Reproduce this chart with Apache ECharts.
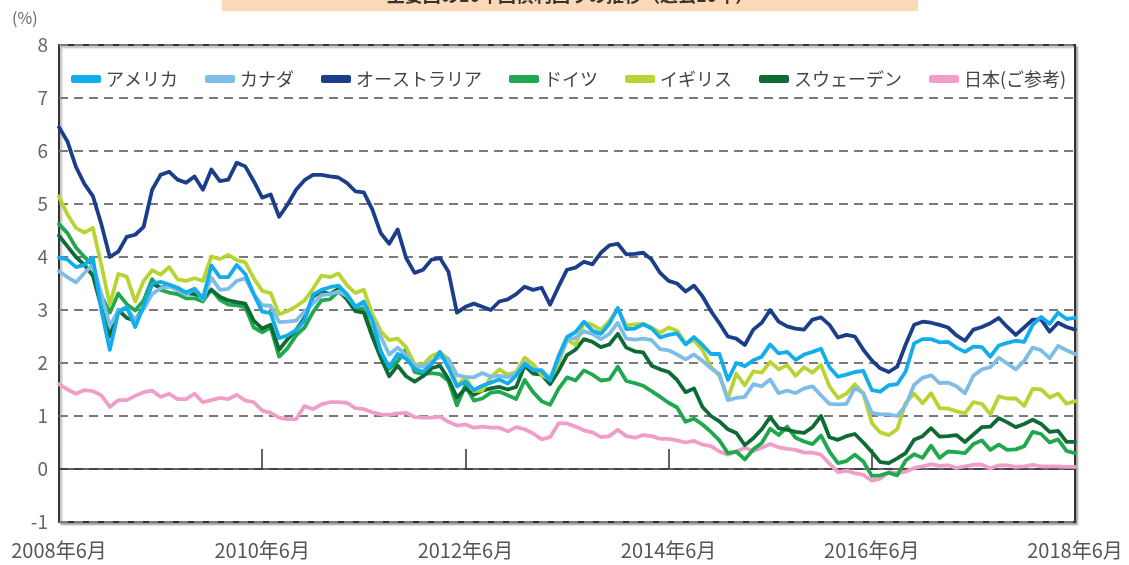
<!DOCTYPE html>
<html>
<head>
<meta charset="utf-8">
<script src="https://cdn.jsdelivr.net/npm/echarts@6/dist/echarts.min.js"></script>
<style>
html,body{margin:0;padding:0;background:#fff;}
#chart{width:1129px;height:565px;}
</style>
</head>
<body>
<div id="chart"></div>
<script>
// Month labels 2008年6月 .. 2018年6月
const categories = [];
for (let y = 2008, m = 6; y < 2018 || (y === 2018 && m <= 6); ) {
  categories.push(y + '年' + m + '月');
  m++; if (m > 12) { m = 1; y++; }
}

const seriesNames = ['アメリカ', 'カナダ', 'オーストラリア', 'ドイツ', 'イギリス', 'スウェーデン', '日本(ご参考)'];

const usa = [
  3.99, 3.95, 3.81, 3.85, 3.99, 3.00, 2.25,
  2.95, 3.05, 2.68, 3.08, 3.50, 3.53, 3.48, 3.42, 3.33, 3.40, 3.22, 3.84,
  3.62, 3.62, 3.85, 3.68, 3.30, 2.97, 2.94, 2.47, 2.52, 2.62, 2.80, 3.29,
  3.38, 3.43, 3.46, 3.30, 3.06, 3.16, 2.80, 2.22, 1.92, 2.17, 2.08, 1.89,
  1.83, 1.98, 2.21, 1.91, 1.56, 1.65, 1.49, 1.57, 1.63, 1.69, 1.61, 1.76,
  1.98, 1.87, 1.85, 1.67, 2.13, 2.49, 2.58, 2.78, 2.61, 2.55, 2.74, 3.04,
  2.64, 2.65, 2.73, 2.65, 2.48, 2.53, 2.56, 2.35, 2.49, 2.34, 2.17, 2.17,
  1.68, 2.00, 1.94, 2.05, 2.12, 2.35, 2.18, 2.21, 2.06, 2.16, 2.21, 2.27,
  1.92, 1.74, 1.78, 1.83, 1.85, 1.49, 1.46, 1.58, 1.60, 1.84, 2.37, 2.45,
  2.45, 2.39, 2.40, 2.29, 2.21, 2.31, 2.30, 2.12, 2.33, 2.38, 2.42, 2.40,
  2.72, 2.87, 2.74, 2.95, 2.83, 2.85
];

const canada = [
  3.73, 3.62, 3.52, 3.70, 3.85, 3.30, 2.70,
  2.99, 3.05, 2.80, 3.02, 3.30, 3.41, 3.45, 3.37, 3.29, 3.40, 3.20, 3.61,
  3.38, 3.40, 3.55, 3.60, 3.30, 3.09, 3.08, 2.77, 2.78, 2.80, 2.97, 3.12,
  3.28, 3.30, 3.35, 3.27, 3.07, 3.11, 2.84, 2.50, 2.16, 2.29, 2.15, 1.94,
  1.93, 2.03, 2.11, 2.08, 1.77, 1.74, 1.73, 1.81, 1.74, 1.76, 1.73, 1.80,
  2.01, 1.88, 1.87, 1.71, 2.07, 2.44, 2.47, 2.60, 2.55, 2.45, 2.55, 2.76,
  2.46, 2.44, 2.46, 2.43, 2.26, 2.24, 2.16, 2.07, 2.16, 2.04, 1.90, 1.79,
  1.30, 1.34, 1.36, 1.60, 1.56, 1.69, 1.43, 1.48, 1.43, 1.52, 1.56, 1.39,
  1.23, 1.22, 1.23, 1.53, 1.43, 1.06, 1.03, 1.03, 1.00, 1.20, 1.59, 1.72,
  1.77, 1.62, 1.63, 1.56, 1.43, 1.76, 1.88, 1.92, 2.10, 1.99, 1.88, 2.04,
  2.29, 2.24, 2.09, 2.32, 2.24, 2.17
];

const australia = [
  6.45, 6.18, 5.70, 5.38, 5.15, 4.62, 4.00,
  4.10, 4.38, 4.42, 4.57, 5.27, 5.55, 5.61, 5.46, 5.40, 5.52, 5.27, 5.65,
  5.43, 5.46, 5.78, 5.71, 5.43, 5.12, 5.18, 4.76, 4.99, 5.27, 5.45, 5.55,
  5.55, 5.52, 5.50, 5.40, 5.24, 5.22, 4.90, 4.45, 4.25, 4.52, 3.98, 3.70,
  3.76, 3.95, 3.98, 3.72, 2.95, 3.06, 3.12, 3.06, 3.00, 3.16, 3.20, 3.30,
  3.44, 3.38, 3.42, 3.10, 3.44, 3.76, 3.80, 3.91, 3.86, 4.08, 4.22, 4.25,
  4.05, 4.06, 4.08, 3.95, 3.70, 3.55, 3.50, 3.35, 3.46, 3.26, 2.98, 2.75,
  2.50, 2.46, 2.34, 2.63, 2.76, 3.00, 2.78, 2.69, 2.65, 2.63, 2.82, 2.86,
  2.72, 2.48, 2.53, 2.50, 2.25, 2.05, 1.90, 1.83, 1.93, 2.35, 2.72, 2.78,
  2.76, 2.72, 2.67, 2.52, 2.42, 2.63, 2.68, 2.75, 2.85, 2.68, 2.53, 2.67,
  2.82, 2.82, 2.59, 2.76, 2.68, 2.63
];

const germany = [
  4.62, 4.45, 4.18, 4.00, 3.85, 3.27, 2.95,
  3.31, 3.11, 2.99, 3.18, 3.58, 3.38, 3.33, 3.30, 3.22, 3.22, 3.16, 3.39,
  3.19, 3.10, 3.09, 3.05, 2.67, 2.58, 2.67, 2.12, 2.28, 2.52, 2.67, 2.96,
  3.18, 3.20, 3.35, 3.21, 3.02, 3.03, 2.54, 2.22, 1.89, 2.03, 2.27, 1.83,
  1.79, 1.81, 1.79, 1.66, 1.20, 1.58, 1.29, 1.33, 1.44, 1.46, 1.39, 1.32,
  1.68, 1.45, 1.28, 1.21, 1.51, 1.73, 1.67, 1.86, 1.78, 1.67, 1.69, 1.93,
  1.66, 1.62, 1.57, 1.47, 1.36, 1.25, 1.16, 0.89, 0.95, 0.84, 0.70, 0.54,
  0.30, 0.33, 0.18, 0.37, 0.49, 0.76, 0.64, 0.80, 0.59, 0.52, 0.47, 0.63,
  0.33, 0.11, 0.15, 0.27, 0.14, -0.13, -0.12, -0.07, -0.12, 0.16, 0.28, 0.21,
  0.44, 0.21, 0.33, 0.32, 0.30, 0.47, 0.54, 0.36, 0.46, 0.36, 0.37, 0.43,
  0.70, 0.66, 0.50, 0.56, 0.34, 0.30
];

const uk = [
  5.14, 4.80, 4.55, 4.46, 4.55, 3.85, 3.10,
  3.68, 3.63, 3.16, 3.55, 3.75, 3.67, 3.81, 3.58, 3.55, 3.60, 3.55, 4.01,
  3.96, 4.04, 3.94, 3.90, 3.60, 3.36, 3.32, 2.92, 2.98, 3.07, 3.18, 3.40,
  3.65, 3.62, 3.69, 3.47, 3.32, 3.38, 2.93, 2.60, 2.43, 2.46, 2.30, 1.98,
  1.97, 2.13, 2.20, 2.07, 1.57, 1.73, 1.47, 1.48, 1.73, 1.88, 1.78, 1.83,
  2.10, 1.98, 1.77, 1.70, 2.00, 2.44, 2.34, 2.77, 2.72, 2.62, 2.79, 3.02,
  2.71, 2.73, 2.74, 2.67, 2.57, 2.67, 2.61, 2.37, 2.43, 2.25, 1.93, 1.76,
  1.33, 1.80, 1.58, 1.84, 1.82, 2.02, 1.88, 1.96, 1.76, 1.92, 1.82, 1.96,
  1.56, 1.34, 1.42, 1.60, 1.43, 0.87, 0.69, 0.64, 0.75, 1.25, 1.42, 1.24,
  1.43, 1.15, 1.14, 1.09, 1.05, 1.26, 1.23, 1.03, 1.37, 1.33, 1.33, 1.19,
  1.51, 1.50, 1.35, 1.42, 1.23, 1.28
];

const sweden = [
  4.40, 4.20, 4.00, 3.85, 3.65, 3.05, 2.50,
  3.00, 2.85, 2.80, 3.05, 3.50, 3.42, 3.45, 3.40, 3.32, 3.30, 3.25, 3.38,
  3.25, 3.18, 3.15, 3.12, 2.80, 2.65, 2.72, 2.25, 2.45, 2.62, 2.85, 3.25,
  3.35, 3.30, 3.40, 3.20, 2.98, 2.95, 2.50, 2.10, 1.75, 1.95, 1.75, 1.65,
  1.75, 1.90, 1.95, 1.70, 1.35, 1.52, 1.40, 1.48, 1.52, 1.55, 1.50, 1.55,
  1.95, 1.80, 1.78, 1.60, 1.85, 2.15, 2.25, 2.45, 2.40, 2.30, 2.35, 2.55,
  2.29, 2.22, 2.20, 1.95, 1.88, 1.83, 1.68, 1.45, 1.52, 1.17, 1.00, 0.90,
  0.75, 0.68, 0.45, 0.58, 0.75, 0.98, 0.77, 0.74, 0.70, 0.68, 0.79, 1.00,
  0.60, 0.55, 0.62, 0.66, 0.50, 0.32, 0.13, 0.11, 0.20, 0.30, 0.55, 0.62,
  0.77, 0.61, 0.62, 0.64, 0.51, 0.65, 0.79, 0.80, 0.96, 0.88, 0.79, 0.85,
  0.93, 0.85, 0.70, 0.72, 0.51, 0.51
];

const japan = [
  1.60, 1.50, 1.42, 1.49, 1.47, 1.39, 1.17,
  1.30, 1.30, 1.38, 1.45, 1.48, 1.36, 1.42, 1.32, 1.32, 1.42, 1.26, 1.30,
  1.34, 1.32, 1.40, 1.29, 1.26, 1.10, 1.06, 0.97, 0.94, 0.94, 1.19, 1.13,
  1.22, 1.26, 1.26, 1.25, 1.15, 1.13, 1.07, 1.03, 1.02, 1.05, 1.06, 0.98,
  0.97, 0.97, 0.99, 0.89, 0.82, 0.84, 0.78, 0.80, 0.78, 0.78, 0.71, 0.79,
  0.75, 0.67, 0.56, 0.60, 0.86, 0.86, 0.80, 0.73, 0.69, 0.60, 0.62, 0.74,
  0.62, 0.59, 0.64, 0.62, 0.57, 0.57, 0.54, 0.50, 0.53, 0.46, 0.43, 0.33,
  0.27, 0.33, 0.40, 0.34, 0.40, 0.47, 0.41, 0.38, 0.36, 0.31, 0.31, 0.27,
  0.10, -0.06, -0.03, -0.08, -0.11, -0.22, -0.18, -0.06, -0.08, -0.05, 0.02, 0.05,
  0.09, 0.06, 0.07, 0.02, 0.05, 0.08, 0.08, 0.01, 0.07, 0.07, 0.04, 0.05,
  0.08, 0.05, 0.05, 0.05, 0.04, 0.04
];

const seriesData = [usa, canada, australia, germany, uk, sweden, japan];
const colors = ['#12AEEB', '#7FBDE9', '#1B3E8A', '#1FA84E', '#B8D432', '#0F6B35', '#F19EC6'];
const zOrder = [9, 7, 8, 4, 6, 5, 3];

const FONT = '"Noto Sans CJK JP", "Noto Sans", sans-serif';

const chart = echarts.init(document.getElementById('chart'), null, { renderer: 'canvas' });

chart.setOption({
  animation: false,
  backgroundColor: '#ffffff',
  color: colors,
  grid: {
    left: 59, right: 54, top: 45, bottom: 43,
    show: true,
    backgroundColor: '#ffffff',
    borderColor: '#333333',
    borderWidth: 2,
    shadowColor: 'rgba(0,0,0,0.3)',
    shadowBlur: 2,
    shadowOffsetX: 2,
    shadowOffsetY: 2
  },
  graphic: [
    { type: 'rect', shape: { x: 222, y: -6, width: 696, height: 17 }, style: { fill: '#FDD8B6' }, z: 10 },
    { type: 'text', x: 570, y: -5, z: 11,
      style: { text: '主要国の10年国債利回りの推移（過去10年）', font: 'bold 18px ' + FONT, fill: '#333', align: 'center', verticalAlign: 'middle' } },
    { type: 'text', x: 12, y: 18, z: 11,
      style: { text: '(%)', font: '16px ' + FONT, fill: '#666', align: 'left', verticalAlign: 'middle' } }
  ],
  legend: {
    left: 66, top: 65,
    itemWidth: 30, itemHeight: 8, itemGap: 27,
    icon: 'roundRect',
    textStyle: { fontSize: 18, color: '#444', fontFamily: FONT },
    data: seriesNames
  },
  xAxis: [
    {
      type: 'category', data: categories, boundaryGap: false, position: 'bottom',
      axisLine: { show: false, onZero: false },
      axisTick: { show: false },
      axisLabel: { interval: 23, fontSize: 20, color: '#555', fontFamily: FONT, margin: 18 },
      splitLine: { show: false }
    },
    {
      type: 'category', data: categories, boundaryGap: false, position: 'bottom',
      axisLine: { show: true, onZero: true, lineStyle: { color: '#333', width: 1.5 } },
      axisTick: { show: true, inside: true, length: 20, interval: 23, lineStyle: { color: '#333', width: 1.5 } },
      axisLabel: { show: false },
      splitLine: { show: false }
    }
  ],
  yAxis: {
    type: 'value', min: -1, max: 8, interval: 1,
    axisLine: { show: false },
    axisTick: { show: false },
    axisLabel: { fontSize: 19, color: '#666', fontFamily: FONT, margin: 11 },
    splitLine: { show: true, lineStyle: { color: '#7a7a7a', width: 1.8, type: [9, 6] } }
  },
  series: seriesNames.map((name, k) => ({
    name: name,
    type: 'line',
    xAxisIndex: 0,
    data: seriesData[k],
    showSymbol: false,
    symbol: 'none',
    z: zOrder[k],
    lineStyle: { width: 3.8, color: colors[k], join: 'round', cap: 'round' },
    itemStyle: { color: colors[k] }
  }))
});
</script>
</body>
</html>
